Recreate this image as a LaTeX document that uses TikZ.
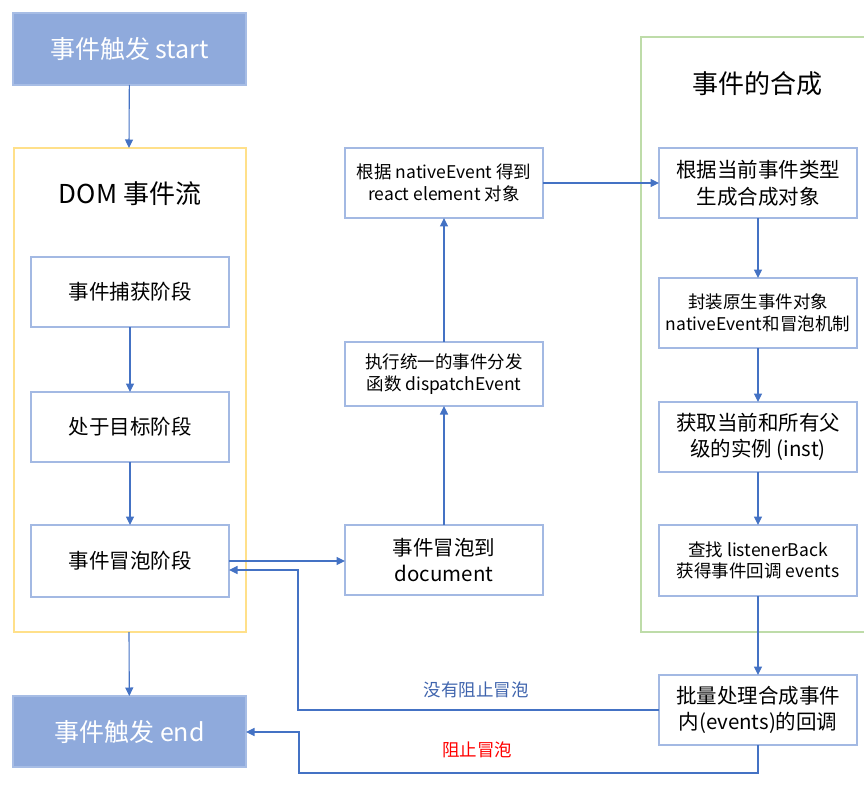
\documentclass[tikz,border=0pt]{standalone}
\usepackage{fontspec}
\setmainfont{Noto Sans CJK SC}
\usetikzlibrary{arrows.meta,positioning}

\definecolor{headblue}{HTML}{8FAADC}
\definecolor{headedge}{HTML}{A7BDE5}
\definecolor{boxedge}{HTML}{A3B9E3}
\definecolor{flowblue}{HTML}{4472C4}
\definecolor{domyellow}{HTML}{FFE08A}
\definecolor{synthgreen}{HTML}{BEDCA9}
\definecolor{notelabel}{HTML}{3F64AD}

\begin{document}
\begin{tikzpicture}[
    x=1pt, y=-1pt,
    headbox/.style={
        draw=headedge,
        line width=1.4pt,
        fill=headblue,
        text=white,
        minimum width=233pt,
        minimum height=72pt,
        inner sep=0pt,
        outer sep=0pt,
        font=\fontsize{25}{30}\selectfont
    },
    stage/.style={
        draw=boxedge,
        line width=1.6pt,
        fill=white,
        align=center,
        minimum width=198pt,
        minimum height=70pt,
        inner sep=2pt,
        outer sep=0pt,
        font=\fontsize{20.5}{26.5}\selectfont
    },
    smallstage/.style={
        stage,
        font=\fontsize{17.5}{21.5}\selectfont
    },
    container/.style={line width=1.6pt},
    boxtitle/.style={font=\fontsize{26}{30}\selectfont},
    flow/.style={-{Triangle[length=8.5pt,width=8pt]},flowblue,line width=1.1pt}
]
\useasboundingbox (0,0) rectangle (864,786);

% left column: DOM event flow
\node[headbox] (start) at (129.5,49) {事件触发 start};
\draw[container,domyellow] (14,148) rectangle (246,632);
\coordinate (domtop) at (129,148);
\coordinate (dombottom) at (129,632);
\node[boxtitle] (domtitle) at (130,194) {DOM 事件流};
\node[stage] (capture) at (130,292) {事件捕获阶段};
\node[stage,below=65pt of capture] (target) {处于目标阶段};
\node[stage,below=63pt of target,minimum height=72pt] (bubble) {事件冒泡阶段};
\node[headbox,minimum height=71pt] (finish) at (129.5,731.5) {事件触发 end};

% middle column
\node[stage] (document) at (444,560) {事件冒泡到\\document};
\node[smallstage,above=119pt of document,minimum height=64pt] (dispatch) {执行统一的事件分发\\函数 dispatchEvent};
\node[smallstage,above=124pt of dispatch] (reactel) {根据 nativeEvent 得到\\react element 对象};

% right column: synthetic event
\draw[container,synthgreen] (641,37) rectangle (880,632);
\node[boxtitle] (synthtitle) at (757,84) {事件的合成};
\node[stage] (synth) at (758,183) {根据当前事件类型\\生成合成对象};
\node[smallstage,below=60pt of synth] (wrap) {封装原生事件对象\\nativeEvent和冒泡机制};
\node[stage,below=54pt of wrap] (inst) {获取当前和所有父\\级的实例 (inst)};
\node[smallstage,below=53pt of inst,minimum height=71pt] (listen) {查找 listenerBack\\获得事件回调 events};
\node[stage,below=79pt of listen] (batch) {批量处理合成事件\\内(events)的回调};

\draw[flow] (start) -- (domtop);
\draw[flow] (capture) -- (target);
\draw[flow] (target) -- (bubble);
\draw[flow] (dombottom) -- (finish);
\draw[flow] (bubble.east) -- (bubble.east -| document.west);
\draw[flow] (document) -- (dispatch);
\draw[flow] (dispatch) -- (reactel);
\draw[flow] (reactel) -- (synth);
\draw[flow] (synth) -- (wrap);
\draw[flow] (wrap) -- (inst);
\draw[flow] (inst) -- (listen);
\draw[flow] (listen) -- (batch);

% return paths
\coordinate (nostop) at (298,570);
\draw[flow] (batch.west) -| (nostop) -- (nostop -| bubble.east);
\node[text=notelabel,font=\fontsize{17.5}{20}\selectfont] (nostoplabel) at (476,690) {没有阻止冒泡};

\coordinate (stopbottom) at (299,773);
\coordinate (stopturn) at (299,732);
\draw[flow] (batch.south) |- (stopbottom) -- (stopturn) -- (stopturn -| finish.east);
\node[text=red,font=\fontsize{17.5}{20}\selectfont] (stoplabel) at (477,750) {阻止冒泡};
\end{tikzpicture}
\end{document}
